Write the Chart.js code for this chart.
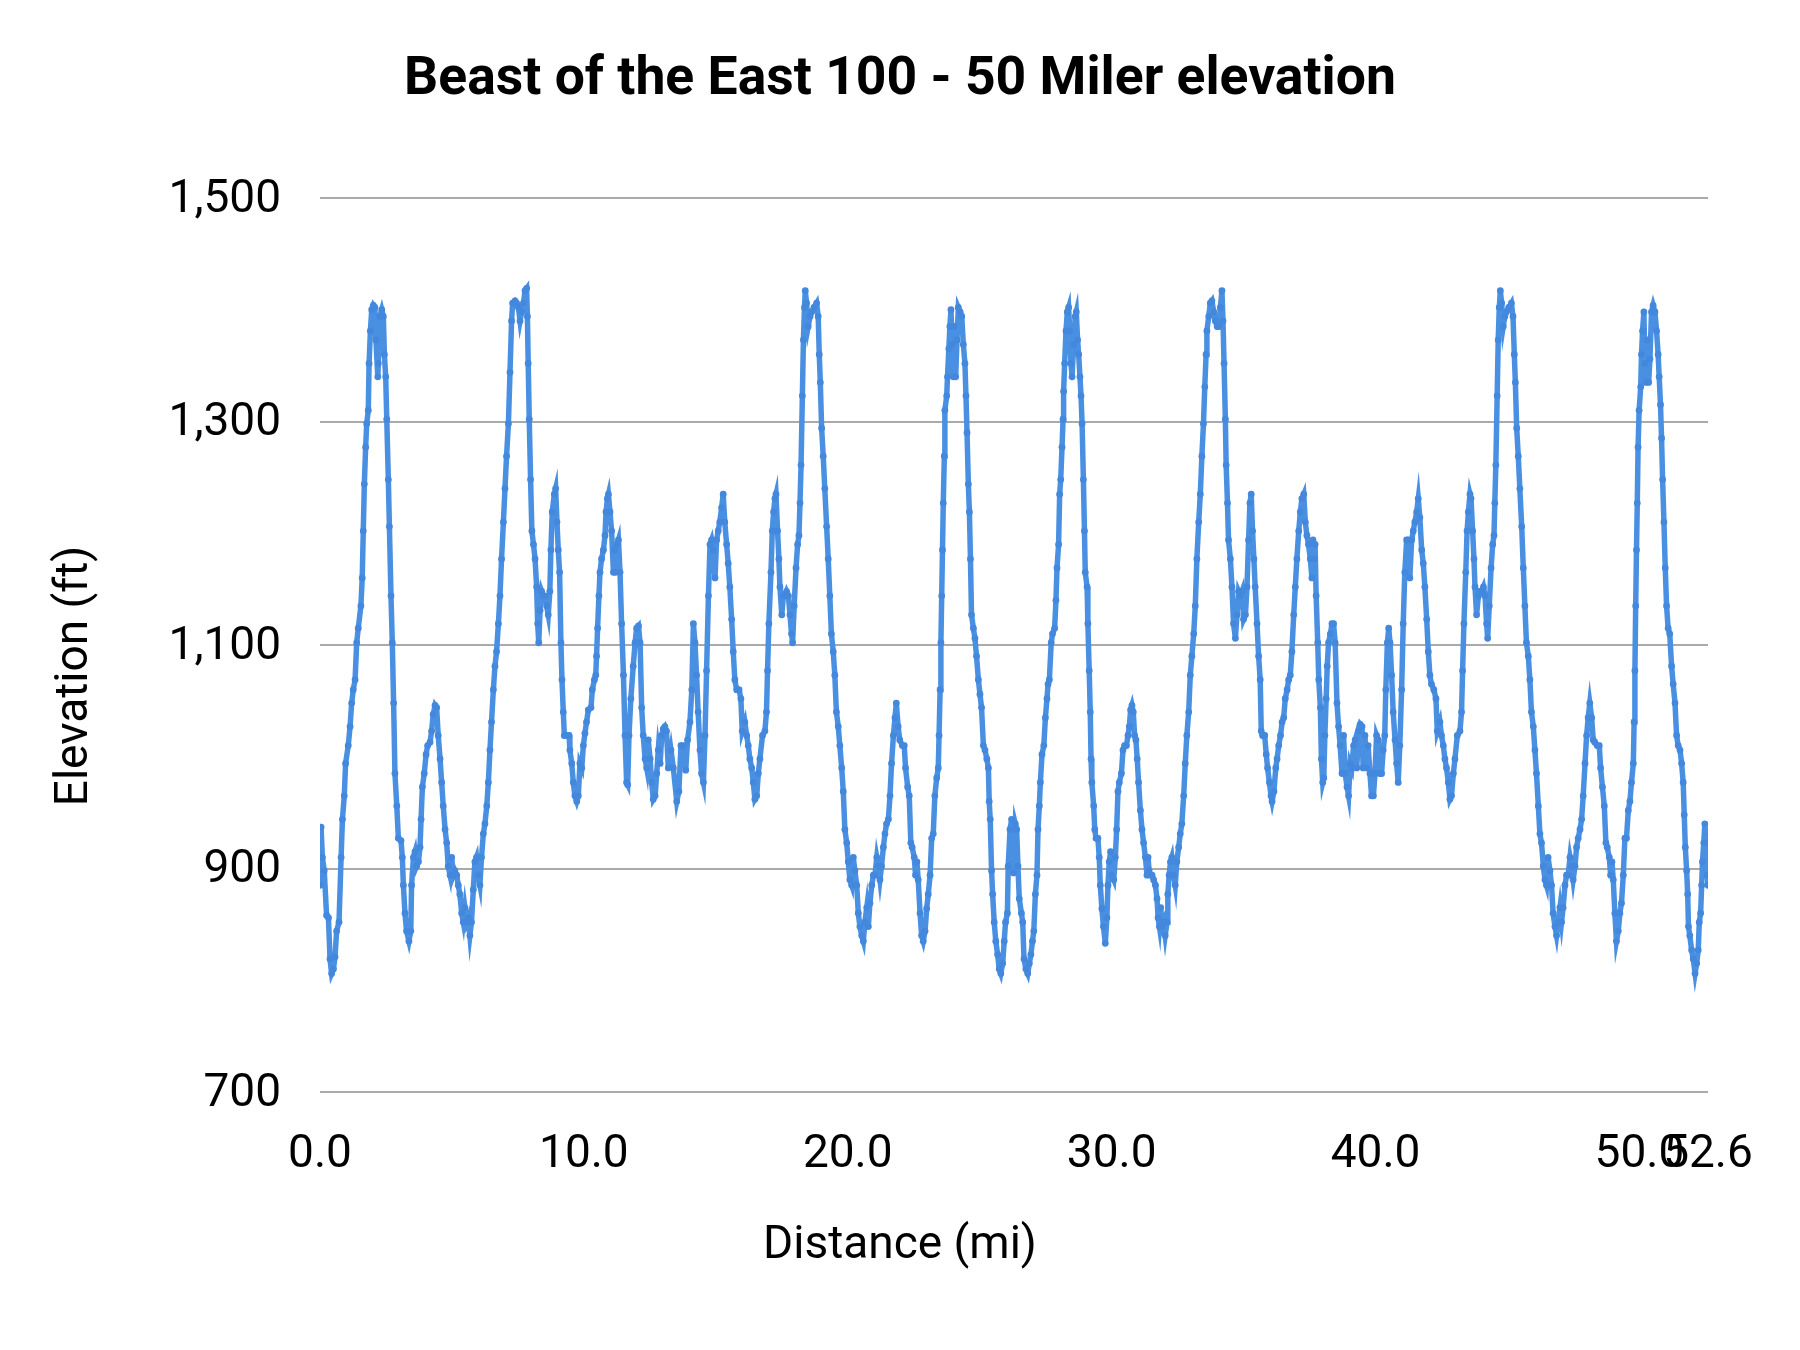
<!DOCTYPE html>
<html>
<head>
<meta charset="utf-8">
<script src="https://cdn.jsdelivr.net/npm/chart.js@4.4.1/dist/chart.umd.min.js"></script>
<style>
  html, body { margin: 0; padding: 0; background: #ffffff; }
  canvas { display: block; }
</style>
</head>
<body>
<canvas id="chart" width="1800" height="1350"></canvas>
<script>
const chartTitle = 'Beast of the East 100 - 50 Miler elevation';
const xAxisTitle = 'Distance (mi)';
const yAxisTitle = 'Elevation (ft)';
const xTickValues = [0, 10, 20, 30, 40, 50, 52.6];
const yTickValues = [700, 900, 1100, 1300, 1500];

// Distance along the course (miles)
const distanceMi = [
  // leg 1
  0.00,0.04,0.09,0.16,0.25,0.32,0.38,0.44,0.51,0.57,
  0.63,0.72,0.80,0.85,0.92,0.97,1.07,1.14,1.20,1.26,
  1.33,1.39,1.45,1.55,1.60,1.64,1.68,1.73,1.77,1.83,
  1.86,1.91,1.96,2.02,2.08,2.12,2.19,2.21,2.27,2.34,
  2.40,2.44,2.49,2.53,2.59,2.63,2.69,2.74,2.79,2.84,
  2.91,2.97,3.07,3.12,3.16,3.22,3.28,3.37,3.44,3.47,
  3.54,3.60,3.66,3.73,3.79,3.83,3.88,3.95,4.02,4.08,
  4.17,4.23,4.29,4.36,4.42,4.48,4.55,4.61,4.67,4.74,
  4.80,4.86,4.93,4.99,5.05,5.11,5.18,5.24,5.30,5.37,
  5.43,5.49,5.56,5.62,5.68,5.74,5.81,5.87,5.93,5.99,
  6.06,6.12,6.19,6.25,6.32,6.38,6.44,6.50,6.57,6.63,
  6.69,6.76,6.82,6.88,6.95,7.01,7.07,7.14,7.20,7.26,
  7.30,7.39,7.45,7.52,7.58,7.64,7.71,7.77,7.83,7.86,
  7.89,7.93,7.98,8.03,8.09,8.15,8.21,8.25,8.29,8.34,
  8.40,8.46,8.52,8.59,8.65,8.71,8.75,8.80,8.88,8.93,
  8.98,9.03,9.08,9.13,9.17,9.22,9.26,9.35,9.44,9.47,
  9.54,9.60,9.66,9.73,9.79,9.85,9.92,9.98,10.04,10.10,
  10.17,10.27,10.32,10.40,10.45,10.48,10.52,10.57,10.61,10.67,
  10.74,10.80,10.84,10.89,10.93,10.99,11.05,11.12,11.15,11.20,
  11.26,11.31,11.37,11.43,11.50,11.56,11.62,11.66,11.71,11.78,
  11.87,11.94,12.00,12.07,12.13,12.19,12.25,12.32,12.38,12.44,
  12.51,12.57,12.63,12.70,12.76,12.82,12.89,12.95,13.01,13.07,
  // leg 2
  13.13,13.20,13.30,13.39,13.52,13.60,13.68,13.77,13.86,13.93,
  14.02,14.09,14.15,14.21,14.27,14.33,14.40,14.46,14.53,14.59,
  14.65,14.72,14.78,14.84,14.90,14.97,15.03,15.09,15.15,15.22,
  15.28,15.34,15.41,15.47,15.53,15.60,15.66,15.72,15.79,15.88,
  15.95,16.00,16.10,16.17,16.23,16.29,16.36,16.42,16.48,16.55,
  16.61,16.67,16.77,16.86,16.92,16.96,17.01,17.09,17.14,17.19,
  17.24,17.28,17.34,17.39,17.43,17.50,17.56,17.62,17.68,17.75,
  17.81,17.87,17.91,17.97,18.04,18.10,18.15,18.19,18.23,18.28,
  18.32,18.36,18.39,18.44,18.50,18.57,18.63,18.72,18.82,18.88,
  18.92,18.96,19.01,19.07,19.13,19.20,19.26,19.32,19.38,19.45,
  19.51,19.57,19.64,19.70,19.77,19.83,19.89,19.96,20.02,20.08,
  20.15,20.21,20.27,20.34,20.40,20.46,20.53,20.59,20.65,20.72,
  20.78,20.84,20.91,20.97,21.03,21.10,21.16,21.22,21.28,21.35,
  21.41,21.47,21.54,21.60,21.66,21.73,21.79,21.84,21.91,21.97,
  22.07,22.14,22.19,22.27,22.33,22.39,22.44,22.52,22.57,22.62,
  22.67,22.74,22.80,22.86,22.93,22.99,23.05,23.12,23.18,23.24,
  23.30,23.37,23.43,23.46,23.50,23.53,23.56,23.59,23.62,23.66,
  23.68,23.75,23.78,23.83,23.87,23.91,23.96,24.00,24.04,24.09,
  24.14,24.19,24.26,24.32,24.38,24.44,24.48,24.52,24.57,24.61,
  24.65,24.69,24.76,24.82,24.88,24.95,25.01,25.07,25.14,25.20,
  25.27,25.33,25.36,25.40,25.45,25.49,25.55,25.61,25.68,25.74,
  25.80,25.87,25.93,25.98,26.05,26.08,26.15,26.21,26.28,26.35,
  // leg 3
  26.40,26.45,26.50,26.58,26.63,26.68,26.75,26.82,26.88,26.94,
  27.00,27.05,27.11,27.17,27.21,27.26,27.30,27.36,27.43,27.49,
  27.55,27.59,27.64,27.71,27.76,27.84,27.89,27.93,27.99,28.03,
  28.07,28.12,28.16,28.18,28.22,28.27,28.32,28.37,28.41,28.46,
  28.50,28.56,28.62,28.66,28.71,28.75,28.80,28.84,28.88,28.93,
  28.97,29.00,29.07,29.10,29.15,29.19,29.22,29.25,29.32,29.36,
  29.41,29.48,29.53,29.57,29.63,29.69,29.76,29.82,29.86,29.91,
  29.96,30.01,30.08,30.14,30.19,30.24,30.29,30.37,30.43,30.49,
  30.56,30.62,30.67,30.72,30.77,30.82,30.87,30.92,30.97,31.02,
  31.09,31.15,31.21,31.28,31.34,31.38,31.42,31.47,31.53,31.59,
  31.66,31.72,31.76,31.81,31.86,31.91,31.97,32.03,32.10,32.13,
  32.18,32.23,32.28,32.35,32.41,32.47,32.54,32.60,32.66,32.73,
  32.79,32.85,32.92,32.98,33.04,33.11,33.17,33.23,33.30,33.36,
  33.42,33.48,33.53,33.58,33.61,33.68,33.74,33.80,33.87,33.93,
  34.00,34.06,34.12,34.18,34.22,34.26,34.31,34.34,34.39,34.43,
  34.50,34.56,34.62,34.69,34.75,34.81,34.88,34.94,35.00,35.07,
  35.13,35.19,35.24,35.29,35.34,35.39,35.44,35.51,35.57,35.63,
  35.67,35.72,35.80,35.86,35.91,35.98,36.04,36.08,36.15,36.22,
  36.27,36.33,36.40,36.46,36.52,36.58,36.65,36.71,36.77,36.83,
  36.90,36.96,37.02,37.09,37.15,37.21,37.28,37.34,37.40,37.46,
  37.53,37.59,37.63,37.68,37.71,37.75,37.81,37.85,37.91,37.95,
  38.00,38.04,38.08,38.13,38.17,38.22,38.29,38.35,38.41,38.47,
  38.54,38.60,38.66,38.73,38.79,38.85,38.92,38.98,39.04,39.10,
  39.17,39.23,39.29,39.36,39.42,39.49,
  // leg 4
  39.53,39.60,39.66,39.72,39.79,39.85,39.92,39.98,40.04,40.10,
  40.17,40.23,40.29,40.35,40.39,40.45,40.50,40.55,40.61,40.67,
  40.74,40.80,40.86,40.92,40.99,41.05,41.11,41.18,41.24,41.30,
  41.37,41.43,41.49,41.56,41.62,41.68,41.75,41.81,41.87,41.94,
  42.00,42.06,42.12,42.21,42.29,42.34,42.44,42.50,42.57,42.63,
  42.69,42.76,42.82,42.88,42.95,43.01,43.10,43.20,43.26,43.30,
  43.35,43.42,43.47,43.52,43.58,43.62,43.68,43.73,43.77,43.83,
  43.90,43.96,44.02,44.09,44.15,44.21,44.25,44.31,44.38,44.44,
  44.49,44.52,44.56,44.61,44.65,44.69,44.73,44.78,44.84,44.90,
  44.96,45.05,45.15,45.21,45.26,45.30,45.35,45.41,45.47,45.54,
  45.60,45.66,45.72,45.79,45.85,45.91,45.98,46.04,46.10,46.17,
  46.23,46.29,46.36,46.42,46.48,46.54,46.61,46.67,46.73,46.80,
  46.86,46.92,46.99,47.05,47.11,47.18,47.24,47.30,47.37,47.43,
  47.49,47.56,47.62,47.68,47.75,47.81,47.87,47.94,48.00,48.06,
  48.12,48.19,48.25,48.31,48.40,48.48,48.53,48.60,48.67,48.73,
  48.78,48.86,48.91,48.96,49.01,49.07,49.13,49.20,49.26,49.32,
  49.39,49.45,49.51,49.58,49.64,49.70,49.77,49.80,49.83,49.86,
  49.89,49.92,49.95,49.99,50.05,50.08,50.12,50.17,50.21,50.25,
  50.30,50.35,50.40,50.46,50.52,50.59,50.65,50.71,50.75,50.80,
  50.84,50.88,50.93,50.98,51.03,51.09,51.15,51.22,51.28,51.35,
  51.41,51.47,51.54,51.60,51.66,51.70,51.74,51.79,51.83,51.86,
  51.91,51.98,52.04,52.11,52.17,52.23,52.27,52.32,52.36,52.39,
  52.44,52.48,52.54,52.57,52.60
];

// Elevation at each distance (feet)
const elevationFt = [
  // leg 1
  885,937,910,898,858,856,819,806,810,821,
  844,852,910,944,965,994,1010,1027,1048,1060,
  1069,1102,1115,1135,1160,1202,1244,1277,1298,1310,
  1352,1381,1400,1404,1402,1373,1340,1352,1394,1400,
  1394,1360,1340,1302,1248,1206,1144,1102,1048,985,
  956,927,925,910,885,860,844,835,844,885,
  910,915,902,906,919,944,973,985,1002,1010,
  1013,1023,1038,1046,1044,1019,998,977,956,935,
  923,902,894,910,894,898,894,885,877,860,
  852,865,852,856,840,852,881,906,910,894,
  885,910,931,940,956,977,1006,1031,1060,1081,
  1094,1119,1144,1177,1210,1240,1269,1298,1344,1390,
  1406,1408,1406,1402,1390,1398,1406,1417,1419,1394,
  1352,1302,1248,1202,1190,1177,1152,1119,1102,1131,
  1148,1144,1144,1135,1127,1148,1185,1219,1235,1240,
  1210,1185,1165,1102,1069,1040,1019,1019,1019,1006,
  994,977,965,960,965,994,990,1010,1021,1031,
  1042,1044,1060,1069,1073,1090,1115,1144,1165,1177,
  1185,1198,1219,1231,1235,1219,1202,1165,1185,1165,
  1190,1194,1165,1119,1073,1019,977,975,1019,1052,
  1081,1102,1115,1117,1102,1044,1019,998,990,1015,
  998,977,962,965,985,1006,994,1019,1025,1027,
  // leg 2
  1023,990,1006,990,960,969,1010,1010,988,1015,
  1031,1060,1119,1102,1073,1040,1006,985,977,1019,
  1077,1144,1190,1194,1185,1160,1194,1202,1210,1223,
  1235,1210,1190,1173,1152,1123,1094,1069,1060,1060,
  1052,1023,1031,1019,1010,998,990,977,962,965,
  985,998,1019,1023,1040,1077,1119,1165,1202,1219,
  1231,1235,1202,1177,1152,1127,1144,1144,1148,1144,
  1127,1110,1102,1135,1169,1190,1198,1227,1261,1323,
  1373,1402,1417,1406,1385,1394,1398,1402,1406,1394,
  1360,1335,1294,1269,1240,1206,1177,1144,1110,1094,
  1073,1040,1027,1010,990,969,935,923,906,890,
  885,910,898,885,860,848,840,835,852,865,
  848,869,885,894,894,910,902,890,902,919,
  931,940,944,965,994,1019,1035,1048,1027,1015,
  1010,1010,990,973,965,923,919,910,894,906,
  890,860,840,835,844,864,877,894,927,931,
  965,981,990,1019,1060,1102,1144,1185,1227,1269,
  1310,1323,1340,1365,1385,1400,1369,1340,1385,1340,
  1373,1402,1398,1394,1369,1352,1323,1290,1244,1219,
  1177,1127,1115,1106,1090,1069,1056,1044,1010,1006,
  998,990,960,944,898,877,852,835,823,810,
  806,815,835,852,860,902,935,944,896,940,
  // leg 3
  935,902,873,860,852,819,810,806,815,823,
  835,844,877,894,935,956,977,1002,1010,1035,
  1052,1065,1069,1102,1110,1115,1140,1169,1190,1235,
  1248,1277,1302,1327,1352,1381,1398,1402,1381,1352,
  1340,1369,1394,1398,1373,1360,1340,1323,1298,1248,
  1202,1165,1152,1119,1077,1040,998,977,956,935,
  927,927,910,885,864,848,833,856,885,906,
  915,894,890,910,935,969,977,985,1006,1010,
  1010,1019,1027,1042,1046,1040,1019,1015,998,977,
  952,935,923,910,894,910,898,894,894,890,
  885,873,856,848,865,848,852,840,852,877,
  894,906,910,894,885,906,919,931,940,965,
  994,1019,1040,1073,1090,1110,1135,1177,1210,1235,
  1269,1298,1331,1360,1381,1394,1406,1408,1398,1390,
  1385,1385,1402,1417,1390,1352,1302,1261,1227,1194,
  1177,1152,1119,1106,1127,1148,1144,1148,1123,1127,
  1152,1194,1227,1235,1202,1177,1152,1119,1090,1069,
  1023,1019,1019,1002,990,977,965,960,969,990,
  998,1010,1019,1031,1035,1052,1060,1069,1073,1094,
  1127,1152,1177,1202,1219,1231,1235,1210,1198,1190,
  1177,1160,1194,1177,1190,1144,1102,1069,1044,998,
  977,981,1019,1052,1081,1102,1110,1119,1119,1102,
  1048,1027,1010,985,1019,985,973,965,994,990,
  1010,1015,990,1023,1029,1027,
  // leg 4
  990,1019,990,1010,985,965,965,985,1019,1015,
  985,985,1006,1019,1060,1102,1115,1102,1073,1040,
  1015,994,977,1010,1060,1119,1165,1194,1194,1160,
  1194,1202,1210,1219,1231,1214,1185,1173,1152,1123,
  1094,1073,1065,1060,1052,1023,1031,1019,1010,998,
  990,977,962,965,985,998,1019,1023,1040,1077,
  1119,1165,1202,1219,1235,1231,1202,1177,1152,1127,
  1144,1148,1148,1152,1144,1119,1106,1135,1169,1190,
  1198,1227,1261,1323,1373,1402,1417,1406,1385,1394,
  1398,1402,1406,1394,1360,1335,1294,1269,1240,1206,
  1169,1135,1102,1090,1069,1040,1027,1006,985,956,
  931,923,902,890,885,910,898,885,860,848,
  840,852,865,852,865,885,894,894,910,902,
  890,902,919,927,935,944,965,994,1019,1035,
  1048,1035,1015,1013,1010,1010,990,973,956,923,
  919,910,894,906,890,860,835,844,860,869,
  894,927,927,952,960,977,994,1031,1077,1135,
  1185,1227,1277,1310,1331,1360,1381,1398,1352,1335,
  1373,1335,1356,1398,1404,1398,1381,1360,1340,1315,
  1285,1248,1210,1169,1135,1115,1110,1081,1065,1048,
  1019,1010,1006,994,977,948,919,898,877,848,
  840,827,819,806,815,827,852,860,885,906,
  923,940,923,894,885
];

const profilePoints = distanceMi.map((d, i) => ({ x: d, y: elevationFt[i] }));

const axisTitlesPlugin = {
  id: 'axisTitles',
  afterDraw(chart) {
    const ctx = chart.ctx;
    ctx.save();
    ctx.fillStyle = '#000000';
    ctx.font = '46px Roboto';
    ctx.textAlign = 'center';
    ctx.textBaseline = 'middle';
    ctx.fillText(xAxisTitle, chart.width / 2, 1246);
    ctx.translate(75, 676);
    ctx.rotate(-Math.PI / 2);
    ctx.fillText(yAxisTitle, 0, 0);
    ctx.restore();
  }
};

new Chart(document.getElementById('chart'), {
  type: 'line',
  data: {
    datasets: [{
      label: 'Elevation (ft)',
      data: profilePoints,
      borderColor: '#4a90e2',
      backgroundColor: '#4a90e2',
      borderWidth: 5.5,
      pointRadius: 3.4,
      pointHoverRadius: 0,
      pointBorderWidth: 0,
      pointBackgroundColor: '#4388dc',
      tension: 0,
      fill: false
    }]
  },
  options: {
    responsive: false,
    animation: false,
    devicePixelRatio: 1,
    layout: { padding: 0 },
    plugins: {
      legend: { display: false },
      tooltip: { enabled: false },
      title: {
        display: true,
        text: chartTitle,
        color: '#000000',
        font: { family: 'Roboto', size: 53.5, weight: 'bold', lineHeight: 1.2 },
        padding: { top: 49, bottom: 84.8 }
      }
    },
    scales: {
      x: {
        type: 'linear',
        min: 0,
        max: 52.6,
        afterBuildTicks: (axis) => { axis.ticks = xTickValues.map(v => ({ value: v })); },
        afterFit: (scale) => { scale.height = 258; },
        grid: { display: false, drawTicks: false },
        border: { display: false },
        ticks: {
          autoSkip: false,
          maxRotation: 0,
          minRotation: 0,
          padding: 35.5,
          color: '#000000',
          font: { family: 'Roboto', size: 46 },
          callback: (v) => Number(v).toFixed(1)
        }
      },
      y: {
        type: 'linear',
        min: 700,
        max: 1500,
        afterBuildTicks: (axis) => { axis.ticks = yTickValues.map(v => ({ value: v })); },
        afterFit: (scale) => { scale.width = 320; },
        grid: { color: '#aaaaaa', lineWidth: 2, drawTicks: false },
        border: { display: false },
        ticks: {
          padding: 39,
          labelOffset: 2,
          color: '#000000',
          font: { family: 'Roboto', size: 46 },
          callback: (v) => Number(v).toLocaleString('en-US')
        }
      },
      yRight: {
        type: 'linear',
        position: 'right',
        display: true,
        grid: { display: false, drawTicks: false },
        border: { display: false },
        ticks: { display: false },
        afterFit: (scale) => { scale.width = 92; }
      }
    }
  },
  plugins: [axisTitlesPlugin]
});
</script>
</body>
</html>
